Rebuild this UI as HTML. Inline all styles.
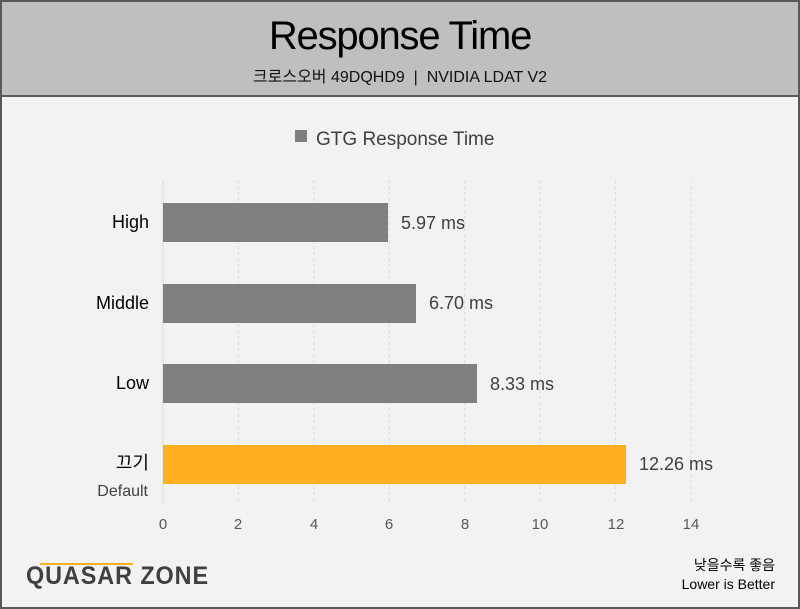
<!DOCTYPE html>
<html><head><meta charset="utf-8"><style>
body{margin:0;width:800px;height:609px;overflow:hidden;font-family:"Liberation Sans","Noto Sans CJK KR",sans-serif;}
.f{position:absolute;left:0;top:0;width:796px;height:605px;border:2px solid #595959;background:#f2f2f2;}
.h{position:absolute;left:0;top:0;width:796px;height:93px;background:#bfbfbf;border-bottom:2px solid #595959;}
.t{position:absolute;width:100%;text-align:center;}
</style></head><body>
<div class="f">
<div class="h">
<div class="t" style="top:12px;font-size:40px;color:#000;letter-spacing:-1.2px">Response Time</div>
<div class="t" style="top:61px;font-size:16px;color:#111">크로스오버 49DQHD9 &nbsp;|&nbsp; NVIDIA LDAT V2</div>
</div>
</div>
<svg width="800" height="609" style="position:absolute;left:0;top:0" font-family="Liberation Sans, Noto Sans CJK KR, sans-serif">
<rect x="295" y="130" width="12" height="12" fill="#7f7f7f"/>
<text x="316" y="145" font-size="19" fill="#404040">GTG Response Time</text>
<g stroke="#d9d9d9" stroke-dasharray="3,3">
<line x1="238.4" y1="180" x2="238.4" y2="505"/><line x1="313.9" y1="180" x2="313.9" y2="505"/>
<line x1="389.3" y1="180" x2="389.3" y2="505"/><line x1="464.7" y1="180" x2="464.7" y2="505"/>
<line x1="540.1" y1="180" x2="540.1" y2="505"/><line x1="615.6" y1="180" x2="615.6" y2="505"/>
<line x1="691" y1="180" x2="691" y2="505"/>
</g>
<line x1="163" y1="180" x2="163" y2="505" stroke="#d9d9d9"/>
<rect x="163" y="203" width="225" height="39" fill="#7f7f7f"/>
<rect x="163" y="284" width="253" height="39" fill="#7f7f7f"/>
<rect x="163" y="364" width="314" height="39" fill="#7f7f7f"/>
<rect x="163" y="445" width="463" height="39" fill="#ffaf1f"/>
<g font-size="18" fill="#404040">
<text x="401" y="229">5.97 ms</text><text x="429" y="309">6.70 ms</text>
<text x="490" y="390">8.33 ms</text><text x="639" y="470">12.26 ms</text>
</g>
<g font-size="18" fill="#000" text-anchor="end">
<text x="149" y="228">High</text><text x="149" y="309">Middle</text><text x="149" y="389">Low</text>
<text x="149" y="469">끄기</text>
<text x="148" y="496" font-size="16" fill="#404040">Default</text>
</g>
<g font-size="15" fill="#595959" text-anchor="middle">
<text x="163" y="529">0</text><text x="238" y="529">2</text><text x="314" y="529">4</text><text x="389" y="529">6</text>
<text x="465" y="529">8</text><text x="540" y="529">10</text><text x="616" y="529">12</text><text x="691" y="529">14</text>
</g>
<text x="26" y="584" font-size="25" font-weight="bold" fill="#404040" letter-spacing="1" textLength="183" lengthAdjust="spacingAndGlyphs">QUASAR ZONE</text>
<line x1="40" y1="564" x2="133" y2="564" stroke="#ffaf1f" stroke-width="2"/>
<g font-size="14" fill="#000" text-anchor="end">
<text x="775" y="570">낮을수록 좋음</text><text x="775" y="589">Lower is Better</text>
</g>
</svg>
</body></html>
